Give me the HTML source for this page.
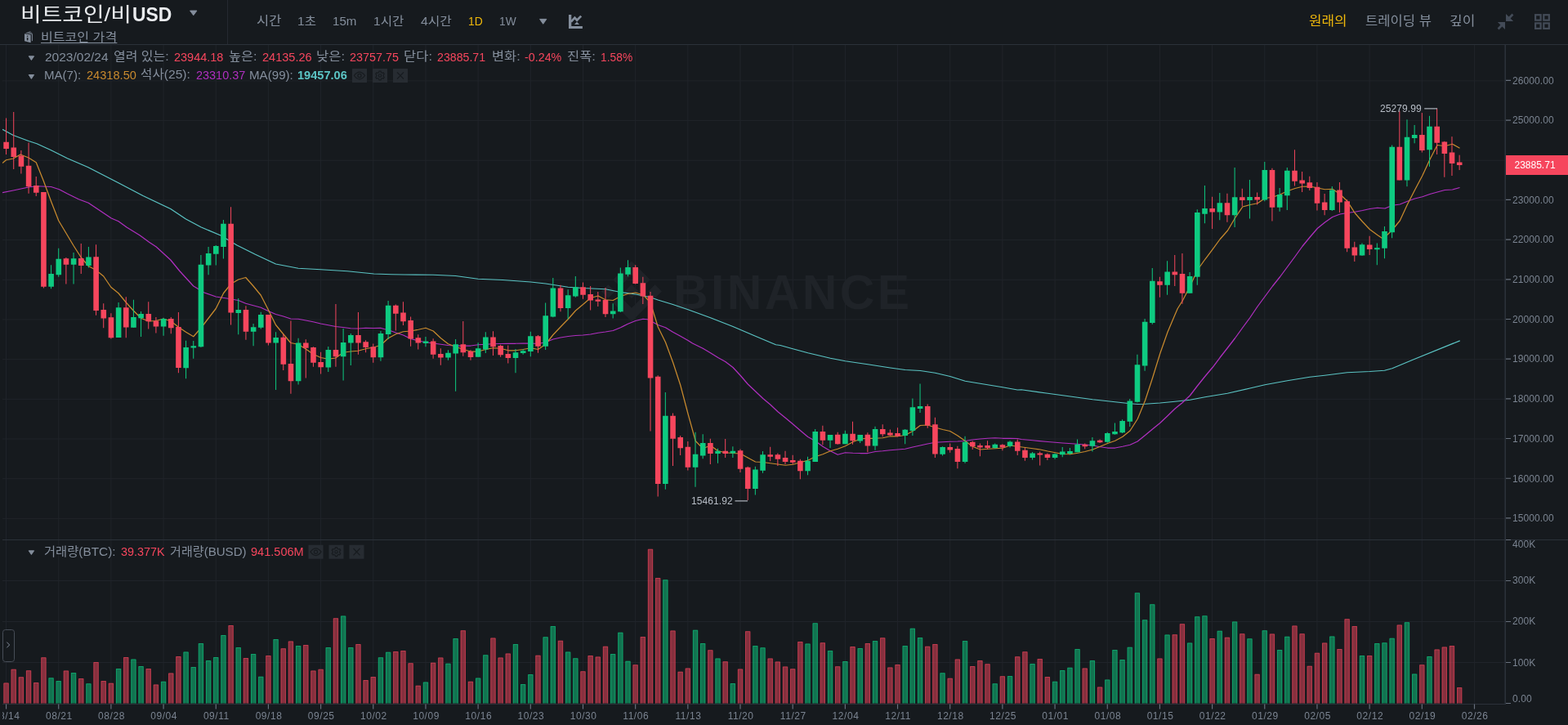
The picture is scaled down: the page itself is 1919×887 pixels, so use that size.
<!DOCTYPE html>
<html lang="ko">
<head>
<meta charset="utf-8">
<title>비트코인/비USD</title>
<style>
*{box-sizing:border-box}
html,body{margin:0;padding:0}
body{width:1919px;height:887px;background:#161a1e;overflow:hidden;position:relative;font-family:"Liberation Sans","Noto Sans CJK KR",sans-serif;color:#848e9c}
.abs{position:absolute;white-space:nowrap;line-height:1}
.t14{font-size:14px}
.hd{top:19px;height:16px;line-height:16px;font-size:14px;color:#848e9c}
.leg{font-size:14px;height:16px;line-height:16px;color:#848e9c}
.tx{position:absolute;white-space:pre;height:20px;line-height:20px;transform-origin:0 50%}
.k{position:relative;top:-0.8px;font-size:1.03em}
.g{color:#848e9c}.w{color:#fff}.r{color:#f6465d}.o{color:#c88a2e}.p{color:#b02fc0}.c{color:#5bc4c4;font-weight:bold}.y{color:#f0b90b}
.ib{position:absolute;width:18px;height:17px;background:#23282f}
.tri{position:absolute;width:0;height:0;border-left:4.5px solid transparent;border-right:4.5px solid transparent;border-top:6px solid #848e9c}
</style>
</head>
<body>
<svg width="1919" height="887" viewBox="0 0 1919 887" style="position:absolute;left:0;top:0" font-family="'Liberation Sans', 'Noto Sans CJK KR', sans-serif">
<defs><clipPath id="cm"><rect x="3" y="55" width="1840" height="605.5"/></clipPath><clipPath id="ct"><rect x="3" y="862" width="1916" height="25"/></clipPath></defs>
<path d="M7.55 55V861M71.73 55V861M135.9 55V861M200.08 55V861M264.25 55V861M328.43 55V861M392.61 55V861M456.78 55V861M520.96 55V861M585.13 55V861M649.31 55V861M713.49 55V861M777.66 55V861M841.84 55V861M906.01 55V861M970.19 55V861M1034.37 55V861M1098.54 55V861M1162.72 55V861M1226.89 55V861M1291.07 55V861M1355.25 55V861M1419.42 55V861M1483.6 55V861M1547.77 55V861M1611.95 55V861M1676.13 55V861M1740.3 55V861M1804.48 55V861M3 634.38H1843M3 585.7H1843M3 537.02H1843M3 488.34H1843M3 439.66H1843M3 390.98H1843M3 342.3H1843M3 293.62H1843M3 244.94H1843M3 196.26H1843M3 147.58H1843M3 98.9H1843M3 810.5H1843M3 760.5H1843M3 710.5H1843" stroke="#20242a" stroke-width="1" fill="none"/>
<g fill="#1f2328"><g transform="translate(736,319.5) scale(0.5845)"><path d="M38.73 53.2L63.31 28.62L87.9 53.21L102.2 38.91L63.31 0L24.43 38.9Z"/><path d="M0 63.31L14.3 49.01L28.6 63.31L14.3 77.61Z"/><path d="M38.73 73.41L63.31 97.99L87.9 73.4L102.21 87.69L63.31 126.61L24.41 87.69Z"/><path d="M98.01 63.31L112.31 49.01L126.61 63.31L112.31 77.61Z"/><path d="M77.83 63.3L63.31 48.78L48.78 63.31L63.31 77.84Z"/></g><text x="824" y="378" font-size="59" font-weight="bold" letter-spacing="3.4">BINANCE</text></g>
<path d="M0 54.5H1919M3 660.5H1919M3 861.5H1843" stroke="#2b3139" stroke-width="1" fill="none"/>
<path d="M1842.2 55V862" stroke="#2b3139" stroke-width="1.6" fill="none"/>
<path d="M1843 633.88H1849M1843 585.2H1849M1843 536.52H1849M1843 487.84H1849M1843 439.16H1849M1843 390.48H1849M1843 341.8H1849M1843 293.12H1849M1843 244.44H1849M1843 195.76H1849M1843 147.08H1849M1843 98.4H1849M1843 860.5H1849M1843 810.5H1849M1843 760.5H1849M1843 710.5H1849M1843 660.5H1849M7.55 861.5V867.5M71.73 861.5V867.5M135.9 861.5V867.5M200.08 861.5V867.5M264.25 861.5V867.5M328.43 861.5V867.5M392.61 861.5V867.5M456.78 861.5V867.5M520.96 861.5V867.5M585.13 861.5V867.5M649.31 861.5V867.5M713.49 861.5V867.5M777.66 861.5V867.5M841.84 861.5V867.5M906.01 861.5V867.5M970.19 861.5V867.5M1034.37 861.5V867.5M1098.54 861.5V867.5M1162.72 861.5V867.5M1226.89 861.5V867.5M1291.07 861.5V867.5M1355.25 861.5V867.5M1419.42 861.5V867.5M1483.6 861.5V867.5M1547.77 861.5V867.5M1611.95 861.5V867.5M1676.13 861.5V867.5M1740.3 861.5V867.5M1804.48 861.5V867.5" stroke="#69717e" stroke-width="1.15" fill="none"/>
<path d="M4.4 835.5h6.3V860.6h-6.3ZM13.57 818.75h6.3V860.6h-6.3ZM22.74 828.25h6.3V860.6h-6.3ZM31.9 820.25h6.3V860.6h-6.3ZM41.07 835h6.3V860.6h-6.3ZM50.24 804.25h6.3V860.6h-6.3ZM77.74 820.5h6.3V860.6h-6.3ZM96.08 830h6.3V860.6h-6.3ZM114.42 810h6.3V860.6h-6.3ZM123.58 833h6.3V860.6h-6.3ZM132.75 835.75h6.3V860.6h-6.3ZM151.09 804h6.3V860.6h-6.3ZM178.59 818h6.3V860.6h-6.3ZM187.76 837.5h6.3V860.6h-6.3ZM206.1 823.5h6.3V860.6h-6.3ZM215.26 803h6.3V860.6h-6.3ZM279.44 765h6.3V860.6h-6.3ZM297.78 805h6.3V860.6h-6.3ZM325.28 802h6.3V860.6h-6.3ZM343.62 793.25h6.3V860.6h-6.3ZM352.78 784.5h6.3V860.6h-6.3ZM371.12 789h6.3V860.6h-6.3ZM380.29 820.5h6.3V860.6h-6.3ZM389.46 818.75h6.3V860.6h-6.3ZM407.79 756.25h6.3V860.6h-6.3ZM435.3 788h6.3V860.6h-6.3ZM444.46 832h6.3V860.6h-6.3ZM453.63 828h6.3V860.6h-6.3ZM481.14 797h6.3V860.6h-6.3ZM490.3 796h6.3V860.6h-6.3ZM499.47 811.25h6.3V860.6h-6.3ZM508.64 838.75h6.3V860.6h-6.3ZM526.98 810.75h6.3V860.6h-6.3ZM536.14 804.5h6.3V860.6h-6.3ZM563.65 771.25h6.3V860.6h-6.3ZM572.82 833.75h6.3V860.6h-6.3ZM600.32 780.5h6.3V860.6h-6.3ZM609.49 804.5h6.3V860.6h-6.3ZM618.66 799.5h6.3V860.6h-6.3ZM655.33 801.75h6.3V860.6h-6.3ZM682.83 783.75h6.3V860.6h-6.3ZM710.34 821.25h6.3V860.6h-6.3ZM719.5 802h6.3V860.6h-6.3ZM728.67 803.5h6.3V860.6h-6.3ZM737.84 790.75h6.3V860.6h-6.3ZM774.51 813.25h6.3V860.6h-6.3ZM783.68 779h6.3V860.6h-6.3ZM792.85 671.75h6.3V860.6h-6.3ZM802.02 707h6.3V860.6h-6.3ZM820.35 771.5h6.3V860.6h-6.3ZM829.52 821.75h6.3V860.6h-6.3ZM838.69 817.5h6.3V860.6h-6.3ZM866.19 795.25h6.3V860.6h-6.3ZM884.53 809.25h6.3V860.6h-6.3ZM902.86 818.5h6.3V860.6h-6.3ZM912.03 772.25h6.3V860.6h-6.3ZM939.54 805.5h6.3V860.6h-6.3ZM948.7 809.5h6.3V860.6h-6.3ZM957.87 815.5h6.3V860.6h-6.3ZM967.04 818.25h6.3V860.6h-6.3ZM976.21 785h6.3V860.6h-6.3ZM1003.71 786.25h6.3V860.6h-6.3ZM1022.05 815.25h6.3V860.6h-6.3ZM1040.38 791h6.3V860.6h-6.3ZM1058.72 787h6.3V860.6h-6.3ZM1077.06 780.25h6.3V860.6h-6.3ZM1086.22 816.5h6.3V860.6h-6.3ZM1095.39 813h6.3V860.6h-6.3ZM1132.06 790.75h6.3V860.6h-6.3ZM1141.23 788h6.3V860.6h-6.3ZM1159.57 829.75h6.3V860.6h-6.3ZM1168.74 806.5h6.3V860.6h-6.3ZM1187.07 815h6.3V860.6h-6.3ZM1196.24 808h6.3V860.6h-6.3ZM1205.41 812.25h6.3V860.6h-6.3ZM1223.74 827.25h6.3V860.6h-6.3ZM1242.08 803.25h6.3V860.6h-6.3ZM1251.25 797.25h6.3V860.6h-6.3ZM1269.58 806h6.3V860.6h-6.3ZM1278.75 828h6.3V860.6h-6.3ZM1324.59 817.5h6.3V860.6h-6.3ZM1342.93 840.5h6.3V860.6h-6.3ZM1416.27 805.5h6.3V860.6h-6.3ZM1434.61 776.25h6.3V860.6h-6.3ZM1443.78 763.25h6.3V860.6h-6.3ZM1480.45 781h6.3V860.6h-6.3ZM1498.78 779.75h6.3V860.6h-6.3ZM1517.12 775.25h6.3V860.6h-6.3ZM1535.46 824.75h6.3V860.6h-6.3ZM1553.79 775.5h6.3V860.6h-6.3ZM1581.3 765.5h6.3V860.6h-6.3ZM1590.46 775.25h6.3V860.6h-6.3ZM1599.63 814.75h6.3V860.6h-6.3ZM1608.8 798.75h6.3V860.6h-6.3ZM1617.97 786.5h6.3V860.6h-6.3ZM1636.3 794h6.3V860.6h-6.3ZM1645.47 757.25h6.3V860.6h-6.3ZM1654.64 766h6.3V860.6h-6.3ZM1672.98 802h6.3V860.6h-6.3ZM1709.65 764.5h6.3V860.6h-6.3ZM1737.15 813.25h6.3V860.6h-6.3ZM1755.49 794.5h6.3V860.6h-6.3ZM1764.66 791.5h6.3V860.6h-6.3ZM1773.82 790h6.3V860.6h-6.3ZM1782.99 841h6.3V860.6h-6.3Z" fill="#f6465d" fill-opacity="0.5"/>
<path d="M4.9 860.6V836h5.3V860.6M14.07 860.6V819.25h5.3V860.6M23.24 860.6V828.75h5.3V860.6M32.4 860.6V820.75h5.3V860.6M41.57 860.6V835.5h5.3V860.6M50.74 860.6V804.75h5.3V860.6M78.24 860.6V821h5.3V860.6M96.58 860.6V830.5h5.3V860.6M114.92 860.6V810.5h5.3V860.6M124.08 860.6V833.5h5.3V860.6M133.25 860.6V836.25h5.3V860.6M151.59 860.6V804.5h5.3V860.6M179.09 860.6V818.5h5.3V860.6M188.26 860.6V838h5.3V860.6M206.6 860.6V824h5.3V860.6M215.76 860.6V803.5h5.3V860.6M279.94 860.6V765.5h5.3V860.6M298.28 860.6V805.5h5.3V860.6M325.78 860.6V802.5h5.3V860.6M344.12 860.6V793.75h5.3V860.6M353.28 860.6V785h5.3V860.6M371.62 860.6V789.5h5.3V860.6M380.79 860.6V821h5.3V860.6M389.96 860.6V819.25h5.3V860.6M408.29 860.6V756.75h5.3V860.6M435.8 860.6V788.5h5.3V860.6M444.96 860.6V832.5h5.3V860.6M454.13 860.6V828.5h5.3V860.6M481.64 860.6V797.5h5.3V860.6M490.8 860.6V796.5h5.3V860.6M499.97 860.6V811.75h5.3V860.6M509.14 860.6V839.25h5.3V860.6M527.48 860.6V811.25h5.3V860.6M536.64 860.6V805h5.3V860.6M564.15 860.6V771.75h5.3V860.6M573.32 860.6V834.25h5.3V860.6M600.82 860.6V781h5.3V860.6M609.99 860.6V805h5.3V860.6M619.16 860.6V800h5.3V860.6M655.83 860.6V802.25h5.3V860.6M683.33 860.6V784.25h5.3V860.6M710.84 860.6V821.75h5.3V860.6M720 860.6V802.5h5.3V860.6M729.17 860.6V804h5.3V860.6M738.34 860.6V791.25h5.3V860.6M775.01 860.6V813.75h5.3V860.6M784.18 860.6V779.5h5.3V860.6M793.35 860.6V672.25h5.3V860.6M802.52 860.6V707.5h5.3V860.6M820.85 860.6V772h5.3V860.6M830.02 860.6V822.25h5.3V860.6M839.19 860.6V818h5.3V860.6M866.69 860.6V795.75h5.3V860.6M885.03 860.6V809.75h5.3V860.6M903.36 860.6V819h5.3V860.6M912.53 860.6V772.75h5.3V860.6M940.04 860.6V806h5.3V860.6M949.2 860.6V810h5.3V860.6M958.37 860.6V816h5.3V860.6M967.54 860.6V818.75h5.3V860.6M976.71 860.6V785.5h5.3V860.6M1004.21 860.6V786.75h5.3V860.6M1022.55 860.6V815.75h5.3V860.6M1040.88 860.6V791.5h5.3V860.6M1059.22 860.6V787.5h5.3V860.6M1077.56 860.6V780.75h5.3V860.6M1086.72 860.6V817h5.3V860.6M1095.89 860.6V813.5h5.3V860.6M1132.56 860.6V791.25h5.3V860.6M1141.73 860.6V788.5h5.3V860.6M1160.07 860.6V830.25h5.3V860.6M1169.24 860.6V807h5.3V860.6M1187.57 860.6V815.5h5.3V860.6M1196.74 860.6V808.5h5.3V860.6M1205.91 860.6V812.75h5.3V860.6M1224.24 860.6V827.75h5.3V860.6M1242.58 860.6V803.75h5.3V860.6M1251.75 860.6V797.75h5.3V860.6M1270.08 860.6V806.5h5.3V860.6M1279.25 860.6V828.5h5.3V860.6M1325.09 860.6V818h5.3V860.6M1343.43 860.6V841h5.3V860.6M1416.77 860.6V806h5.3V860.6M1435.11 860.6V776.75h5.3V860.6M1444.28 860.6V763.75h5.3V860.6M1480.95 860.6V781.5h5.3V860.6M1499.28 860.6V780.25h5.3V860.6M1517.62 860.6V775.75h5.3V860.6M1535.96 860.6V825.25h5.3V860.6M1554.29 860.6V776h5.3V860.6M1581.8 860.6V766h5.3V860.6M1590.96 860.6V775.75h5.3V860.6M1600.13 860.6V815.25h5.3V860.6M1609.3 860.6V799.25h5.3V860.6M1618.47 860.6V787h5.3V860.6M1636.8 860.6V794.5h5.3V860.6M1645.97 860.6V757.75h5.3V860.6M1655.14 860.6V766.5h5.3V860.6M1673.48 860.6V802.5h5.3V860.6M1710.15 860.6V765h5.3V860.6M1737.65 860.6V813.75h5.3V860.6M1755.99 860.6V795h5.3V860.6M1765.16 860.6V792h5.3V860.6M1774.32 860.6V790.5h5.3V860.6M1783.49 860.6V841.5h5.3V860.6" fill="none" stroke="#f6465d" stroke-opacity="0.5" stroke-width="1"/>
<path d="M59.41 829.25h6.3V860.6h-6.3ZM68.58 833h6.3V860.6h-6.3ZM86.91 823h6.3V860.6h-6.3ZM105.25 836.25h6.3V860.6h-6.3ZM141.92 818h6.3V860.6h-6.3ZM160.26 806.5h6.3V860.6h-6.3ZM169.42 815h6.3V860.6h-6.3ZM196.93 833.75h6.3V860.6h-6.3ZM224.43 797.5h6.3V860.6h-6.3ZM233.6 816h6.3V860.6h-6.3ZM242.77 787h6.3V860.6h-6.3ZM251.94 808h6.3V860.6h-6.3ZM261.1 804h6.3V860.6h-6.3ZM270.27 777h6.3V860.6h-6.3ZM288.61 792h6.3V860.6h-6.3ZM306.94 800h6.3V860.6h-6.3ZM316.11 827.75h6.3V860.6h-6.3ZM334.45 782h6.3V860.6h-6.3ZM361.95 790h6.3V860.6h-6.3ZM398.62 792h6.3V860.6h-6.3ZM416.96 753.5h6.3V860.6h-6.3ZM426.13 792h6.3V860.6h-6.3ZM462.8 804.25h6.3V860.6h-6.3ZM471.97 797.75h6.3V860.6h-6.3ZM517.81 834.5h6.3V860.6h-6.3ZM545.31 811.75h6.3V860.6h-6.3ZM554.48 781h6.3V860.6h-6.3ZM581.98 829.5h6.3V860.6h-6.3ZM591.15 801.25h6.3V860.6h-6.3ZM627.82 788h6.3V860.6h-6.3ZM636.99 837h6.3V860.6h-6.3ZM646.16 825h6.3V860.6h-6.3ZM664.5 779.25h6.3V860.6h-6.3ZM673.66 766h6.3V860.6h-6.3ZM692 797.5h6.3V860.6h-6.3ZM701.17 805.25h6.3V860.6h-6.3ZM747.01 800h6.3V860.6h-6.3ZM756.18 773.75h6.3V860.6h-6.3ZM765.34 808.75h6.3V860.6h-6.3ZM811.18 709.25h6.3V860.6h-6.3ZM847.86 770.75h6.3V860.6h-6.3ZM857.02 787h6.3V860.6h-6.3ZM875.36 805.5h6.3V860.6h-6.3ZM893.7 836h6.3V860.6h-6.3ZM921.2 790h6.3V860.6h-6.3ZM930.37 792.25h6.3V860.6h-6.3ZM985.38 787.5h6.3V860.6h-6.3ZM994.54 762.25h6.3V860.6h-6.3ZM1012.88 796h6.3V860.6h-6.3ZM1031.22 809h6.3V860.6h-6.3ZM1049.55 793h6.3V860.6h-6.3ZM1067.89 784h6.3V860.6h-6.3ZM1104.56 790h6.3V860.6h-6.3ZM1113.73 768.75h6.3V860.6h-6.3ZM1122.9 780h6.3V860.6h-6.3ZM1150.4 823.25h6.3V860.6h-6.3ZM1177.9 784h6.3V860.6h-6.3ZM1214.58 836.25h6.3V860.6h-6.3ZM1232.91 827h6.3V860.6h-6.3ZM1260.42 812h6.3V860.6h-6.3ZM1287.92 833.75h6.3V860.6h-6.3ZM1297.09 820h6.3V860.6h-6.3ZM1306.26 816.75h6.3V860.6h-6.3ZM1315.42 794h6.3V860.6h-6.3ZM1333.76 808h6.3V860.6h-6.3ZM1352.1 831.5h6.3V860.6h-6.3ZM1361.26 795h6.3V860.6h-6.3ZM1370.43 807h6.3V860.6h-6.3ZM1379.6 791.75h6.3V860.6h-6.3ZM1388.77 725.25h6.3V860.6h-6.3ZM1397.94 758.25h6.3V860.6h-6.3ZM1407.1 739.25h6.3V860.6h-6.3ZM1425.44 776.5h6.3V860.6h-6.3ZM1452.94 786.5h6.3V860.6h-6.3ZM1462.11 754.25h6.3V860.6h-6.3ZM1471.28 753.25h6.3V860.6h-6.3ZM1489.62 771.75h6.3V860.6h-6.3ZM1507.95 760.5h6.3V860.6h-6.3ZM1526.29 781.25h6.3V860.6h-6.3ZM1544.62 771.25h6.3V860.6h-6.3ZM1562.96 795h6.3V860.6h-6.3ZM1572.13 778.75h6.3V860.6h-6.3ZM1627.14 778.5h6.3V860.6h-6.3ZM1663.81 802h6.3V860.6h-6.3ZM1682.14 787h6.3V860.6h-6.3ZM1691.31 786.25h6.3V860.6h-6.3ZM1700.48 780.75h6.3V860.6h-6.3ZM1718.82 761.25h6.3V860.6h-6.3ZM1727.98 824.5h6.3V860.6h-6.3ZM1746.32 803h6.3V860.6h-6.3Z" fill="#0ecb81" fill-opacity="0.5"/>
<path d="M59.91 860.6V829.75h5.3V860.6M69.08 860.6V833.5h5.3V860.6M87.41 860.6V823.5h5.3V860.6M105.75 860.6V836.75h5.3V860.6M142.42 860.6V818.5h5.3V860.6M160.76 860.6V807h5.3V860.6M169.92 860.6V815.5h5.3V860.6M197.43 860.6V834.25h5.3V860.6M224.93 860.6V798h5.3V860.6M234.1 860.6V816.5h5.3V860.6M243.27 860.6V787.5h5.3V860.6M252.44 860.6V808.5h5.3V860.6M261.6 860.6V804.5h5.3V860.6M270.77 860.6V777.5h5.3V860.6M289.11 860.6V792.5h5.3V860.6M307.44 860.6V800.5h5.3V860.6M316.61 860.6V828.25h5.3V860.6M334.95 860.6V782.5h5.3V860.6M362.45 860.6V790.5h5.3V860.6M399.12 860.6V792.5h5.3V860.6M417.46 860.6V754h5.3V860.6M426.63 860.6V792.5h5.3V860.6M463.3 860.6V804.75h5.3V860.6M472.47 860.6V798.25h5.3V860.6M518.31 860.6V835h5.3V860.6M545.81 860.6V812.25h5.3V860.6M554.98 860.6V781.5h5.3V860.6M582.48 860.6V830h5.3V860.6M591.65 860.6V801.75h5.3V860.6M628.32 860.6V788.5h5.3V860.6M637.49 860.6V837.5h5.3V860.6M646.66 860.6V825.5h5.3V860.6M665 860.6V779.75h5.3V860.6M674.16 860.6V766.5h5.3V860.6M692.5 860.6V798h5.3V860.6M701.67 860.6V805.75h5.3V860.6M747.51 860.6V800.5h5.3V860.6M756.68 860.6V774.25h5.3V860.6M765.84 860.6V809.25h5.3V860.6M811.68 860.6V709.75h5.3V860.6M848.36 860.6V771.25h5.3V860.6M857.52 860.6V787.5h5.3V860.6M875.86 860.6V806h5.3V860.6M894.2 860.6V836.5h5.3V860.6M921.7 860.6V790.5h5.3V860.6M930.87 860.6V792.75h5.3V860.6M985.88 860.6V788h5.3V860.6M995.04 860.6V762.75h5.3V860.6M1013.38 860.6V796.5h5.3V860.6M1031.72 860.6V809.5h5.3V860.6M1050.05 860.6V793.5h5.3V860.6M1068.39 860.6V784.5h5.3V860.6M1105.06 860.6V790.5h5.3V860.6M1114.23 860.6V769.25h5.3V860.6M1123.4 860.6V780.5h5.3V860.6M1150.9 860.6V823.75h5.3V860.6M1178.4 860.6V784.5h5.3V860.6M1215.08 860.6V836.75h5.3V860.6M1233.41 860.6V827.5h5.3V860.6M1260.92 860.6V812.5h5.3V860.6M1288.42 860.6V834.25h5.3V860.6M1297.59 860.6V820.5h5.3V860.6M1306.76 860.6V817.25h5.3V860.6M1315.92 860.6V794.5h5.3V860.6M1334.26 860.6V808.5h5.3V860.6M1352.6 860.6V832h5.3V860.6M1361.76 860.6V795.5h5.3V860.6M1370.93 860.6V807.5h5.3V860.6M1380.1 860.6V792.25h5.3V860.6M1389.27 860.6V725.75h5.3V860.6M1398.44 860.6V758.75h5.3V860.6M1407.6 860.6V739.75h5.3V860.6M1425.94 860.6V777h5.3V860.6M1453.44 860.6V787h5.3V860.6M1462.61 860.6V754.75h5.3V860.6M1471.78 860.6V753.75h5.3V860.6M1490.12 860.6V772.25h5.3V860.6M1508.45 860.6V761h5.3V860.6M1526.79 860.6V781.75h5.3V860.6M1545.12 860.6V771.75h5.3V860.6M1563.46 860.6V795.5h5.3V860.6M1572.63 860.6V779.25h5.3V860.6M1627.64 860.6V779h5.3V860.6M1664.31 860.6V802.5h5.3V860.6M1682.64 860.6V787.5h5.3V860.6M1691.81 860.6V786.75h5.3V860.6M1700.98 860.6V781.25h5.3V860.6M1719.32 860.6V761.75h5.3V860.6M1728.48 860.6V825h5.3V860.6M1746.82 860.6V803.5h5.3V860.6" fill="none" stroke="#0ecb81" stroke-opacity="0.5" stroke-width="1"/>
<path d="M3 158.25L16.25 165.5L35 172.5L45 175.75L62.5 183.75L82.5 193.75L107.5 204.5L145 223.75L175 239.5L208.75 255.5L227.5 268L246.25 278L270 288L285 297L290 300L312.5 311.25L337.5 323L365 328.25L392.5 329.75L425 331.75L457.5 335L479.5 335.75L495 336L530 336.25L557.5 337.5L585 341.25L615 342.5L649.5 345L667.75 347L695.25 351.25L713.5 352.5L741 353.75L759.5 357.5L777.75 360L796 363.75L805.25 367L823.5 372.5L842 378.75L869.5 388.75L897 399.5L924.5 411.25L949.5 421.75L955 422.5L970.25 426.75L988.75 431.75L1016.25 438.25L1034.5 441.75L1062 445.75L1089.5 450L1107.75 452.5L1126.25 453.5L1144.5 456.25L1162.75 460.5L1181.25 466.25L1199.5 469.25L1227 473.75L1245.25 477L1250 476.75L1282.25 481.25L1309.75 485L1337.25 488.75L1364.75 491.75L1383 493.75L1392.25 494.5L1401.5 494.25L1419.75 493L1438 491.25L1456.5 489.25L1474.75 485.75L1502.25 481.25L1529.75 475L1548 470.75L1575.5 465.75L1603 461.25L1621.25 459.25L1648.75 455.75L1676.25 454.5L1694.5 453.25L1703.75 450.75L1729.5 440L1786.7 416.8" stroke="#5bc4c4" stroke-width="1.25" fill="none" stroke-linejoin="round" clip-path="url(#cm)"/><path d="M3 235.75L16.25 233L35 229L45 227.75L62.5 228.5L72.5 231.75L82.5 237L96.25 243.75L108.25 248.25L136.25 267L145 270.75L155 278L171.25 288L182.5 296.25L191.25 302L208.75 318L220 331.75L236.75 350L250 358L264.25 363L277.5 365L291.75 367.5L300.75 371.25L319.25 376.25L328.25 380.5L337.5 384.5L346.75 387L355.75 390L365 390.25L374.25 392L383.25 393.75L392.5 396L401.75 397.75L410.75 399.5L420 400.5L429.25 401.75L438.25 402L447.5 401.25L456.75 401.5L465.75 401.25L470 402.5L475.25 403.75L484.5 407L493.5 410L502.75 414.5L512 417L521 418.75L530.25 420L539.5 421.25L548.5 422.5L557.75 423L567 423L576 423L585.25 421.75L594.5 421.25L603.5 420.75L612.75 420.5L622 420.25L631 420.25L640.25 420L649.5 420L658.5 420.5L667.75 418.75L677 415L686 413L695.25 411.5L704.5 410.5L713.5 410L722.75 409L732 407.25L741 406L750.25 404.5L759.5 400.75L768.5 396.25L777.75 392.5L787 390.25L792.5 390.75L796 392.5L805.25 397.5L814.5 400.75L823.5 406.25L832.75 411.25L842 416.5L847.5 420L860.25 426.25L869.5 431.75L878.75 437.5L887.75 442.5L897 449.5L906.25 459.5L915.25 470L924.5 478.75L933.75 487.5L942.75 495L952 503.75L961.25 511.25L970.25 518.75L979.5 526.75L988.75 534.5L997.75 539.5L1007 546.25L1016.25 551.75L1025.25 556.25L1034.5 553.75L1043.75 554.25L1052.75 554.5L1062 554.5L1071.25 552.5L1080.25 551.75L1089.5 550.75L1098.75 550L1107.75 549.25L1117 547L1126.25 545L1135.25 543L1144.5 541.25L1153.75 540.75L1162.75 540.25L1172 540L1181.25 539.5L1190.25 538L1199.5 537L1208.75 536.25L1217.75 535.75L1227 536.25L1236.25 536.25L1245.25 536.5L1250 537.5L1264 538.75L1282.25 540.5L1300.5 542L1319 543.25L1337.25 545L1346.5 546.75L1355.5 548L1364.75 548L1374 546.25L1383 544.25L1392.25 540L1401.5 532.5L1410.5 525L1419.75 517.5L1429 508.75L1438 500L1447.25 492.5L1456.5 483.75L1465.5 472L1474.75 460.5L1484 449.5L1493 437.5L1502.25 425.75L1511.5 413.75L1520.5 401.25L1529.75 388.75L1539 375L1548.25 362.5L1557.5 350L1566.5 338.75L1575.75 326.25L1585 313.75L1594 301.25L1603.25 290L1612.5 279.25L1621.5 272L1630.75 265.5L1640 262L1649 260.5L1658.25 259.25L1667.5 257.5L1676.5 255.5L1685.75 254.25L1695 255L1704 251.25L1713.25 250L1722.5 246.25L1731.5 243L1740.75 240.75L1750 237.5L1759 235L1768.25 232.5L1777.5 232L1786.5 229.5" stroke="#b02fc0" stroke-width="1.25" fill="none" stroke-linejoin="round" clip-path="url(#cm)"/><path d="M3 199.5L7.5 195.75L16.25 194L25 189L35 193L44.25 198.75L53.25 221.25L62.5 246.25L71.75 270L80.75 285L90 300.5L99.25 315L108.25 325.5L117.5 330.5L126.75 338L135.75 351.25L145 358.75L154.25 370L163.25 380L172.5 389.25L181.75 393L190.75 392.5L200 390L209.25 393L218.25 400L227.5 406.25L236.75 411.75L246 401.25L255 389.5L264.25 377.5L273.5 358.75L282.5 347.5L291.75 342L300.75 339.5L310 350L319.25 361.25L328.25 378.75L337.5 397.5L346.75 408.75L355.75 419.5L365 421.25L374.25 427L383.25 433.25L392.5 437.5L401.75 439.25L410.75 438L420 431.25L429.25 430L438.25 429.25L447.5 426.75L456.75 425L465.75 422.5L475.25 413.75L484.5 408.75L493.5 405.75L502.75 405L512 403.25L521 401.25L530.25 405L539.5 413.75L548.5 420.75L557.75 424.25L567 427.5L576 430L585.25 430L594.5 427.5L603.5 425.75L612.75 426.25L622 428.75L631 428.75L640.25 427.5L649.5 425.75L658.5 427.5L667.75 421.25L677 409.5L686 400L695.25 390.5L704.5 380L713.5 372.5L722.75 364.5L732 362L741 366.75L750.25 367.5L759.5 362.5L768.5 359.5L777.75 358L787 360.75L796 370L805.25 400L814.5 418.75L823.75 443.75L832.75 471.25L842 506.25L851.25 539.5L860.25 548.75L869.5 545L878.75 551.75L887.75 553.75L897 554.5L906.25 555L915.25 560L924.5 565L933.75 565.5L942.75 566.75L952 568L961.25 569.25L970.25 568.25L979.5 565.75L988.75 563.25L997.75 558.75L1007 555.75L1016.25 551.75L1025.25 549.25L1034.5 545.75L1043.75 540.75L1052.75 537L1062 536.25L1071.25 536.25L1080.25 535.75L1089.5 533.75L1098.75 533.75L1107.75 532.5L1117 527.5L1126.25 520.5L1135.25 520L1144.5 523L1153.75 525.5L1162.75 527.5L1172 533L1181.25 539.5L1190.25 546.25L1199.5 550L1208.75 549.25L1217.75 548.75L1227 548.25L1236.25 545L1245.25 546.25L1254.75 547.5L1264 548.75L1273 550L1282.25 552L1291.5 553.75L1300.5 555.5L1309.75 555.75L1319 554.25L1328 552.5L1337.25 550L1346.5 546.25L1355.5 542.5L1364.75 539.25L1374 534.25L1383 527L1392.25 512.5L1401.5 490L1410.5 462.5L1419.75 432.5L1429 406.25L1438 385L1441.25 377.5L1447.5 367.5L1456.5 350L1465.75 330L1475 317L1484 305L1493.25 292.5L1502.5 282L1511.5 266.75L1520.75 253L1530 250.5L1539 248.75L1548.25 242.5L1557.5 241.25L1566.5 238L1575.75 233.75L1585 230.5L1594 228.25L1603.25 228L1612.5 230L1621.5 231.75L1630.75 231.25L1640 237.5L1649 246.25L1658.25 260.75L1667.5 271.25L1676.5 280.75L1685.75 287.5L1691.25 291.25L1695 290L1704 281.25L1713.25 270L1722.5 250L1731.5 232.5L1740.75 215L1750 195L1759 177.5L1768.25 178.75L1777.5 176.25L1786.5 181.25" stroke="#c88a2e" stroke-width="1.25" fill="none" stroke-linejoin="round" clip-path="url(#cm)"/>
<path d="M7.55 144.5V189M16.72 137V207M25.89 184V212.5M35.05 174.5V236.75M44.22 216V240M53.39 235V352.5M80.89 315V347.5M99.23 298V335M117.57 299.25V385.75M126.73 371.25V401.25M135.9 383.25V414.5M154.24 363.25V413.25M181.74 369.25V402.5M190.91 388V407.5M209.25 388V408.25M218.41 382V456.25M282.59 253.25V397.5M300.93 374.25V415.75M328.43 385V422.5M346.77 408.75V453M355.93 392.5V481.75M374.27 415.25V462.5M383.44 424.25V448.75M392.61 430.75V457.5M410.94 372V448.75M438.45 382V433.75M447.61 416.25V431.25M456.78 420.5V443.75M484.29 372.5V404.5M493.45 369.25V398M502.62 387.5V423.75M511.79 409.25V427.5M530.13 414.25V438.75M539.29 426.25V446.75M566.8 393V435.75M575.97 428.25V440.75M603.47 405.25V435M612.64 421.75V436.75M621.81 422.5V444.5M658.48 410V431.75M685.98 348.75V381.25M713.49 345.5V365.75M722.65 350V379.5M731.82 357V375M740.99 352V388M777.66 324.25V347.5M786.83 338.75V372M796 357V527.5M805.17 459.25V607.5M823.5 505.5V570M832.67 533V557M841.84 540V575.5M869.34 536.75V568M887.68 537V560M906.01 549.5V578M915.18 570.75V612M942.69 546.75V564.25M951.85 554.5V570M961.02 551.75V568M970.19 556.75V568M979.36 561.75V586.25M1006.86 520.75V544.25M1025.2 528.75V543.75M1043.53 515.75V543.75M1061.87 529.25V553.25M1080.21 519.25V534.25M1089.37 525.5V533.25M1098.54 523.25V534.25M1135.21 494.5V523.75M1144.38 510.75V560M1162.72 542.5V553.75M1171.89 545.75V573.25M1190.22 539.5V550M1199.39 542.5V558.25M1208.56 539.25V550M1226.89 543.25V551.25M1245.23 537.5V557M1254.4 548V563.75M1272.73 552.5V569.5M1281.9 554.5V563M1327.74 542.5V549.25M1346.08 537.5V542M1419.42 338.75V363.75M1437.76 312V350M1446.93 310V371.75M1483.6 240.75V280M1501.93 236.75V271.75M1520.27 230.75V252.5M1538.61 235.5V250.5M1556.94 205.75V270.5M1584.45 183.25V227.5M1593.61 210V235M1602.78 215.75V233M1611.95 223V257.5M1621.12 237V263.25M1639.45 223V260M1648.62 244.25V308.25M1657.79 295.75V320M1676.13 288.75V312M1712.8 135.61V220.47M1740.3 138.09V186.48M1758.64 132.63V188.96M1767.81 172.83V216.75M1776.97 167.12V215.01M1786.14 189.7V208.06" stroke="#f6465d" stroke-width="1" fill="none" clip-path="url(#cm)"/>
<path d="M4.3 173.75h6.6V182h-6.6ZM13.47 180.5h6.6V192h-6.6ZM22.64 190.5h6.6V203.75h-6.6ZM31.8 202.75h6.6V228.25h-6.6ZM40.97 227h6.6V235.75h-6.6ZM50.14 235h6.6V350.75h-6.6ZM77.64 316.25h6.6V323.75h-6.6ZM95.98 316h6.6V325h-6.6ZM114.32 314.25h6.6V380h-6.6ZM123.48 379h6.6V389.5h-6.6ZM132.65 388.25h6.6V413.25h-6.6ZM150.99 376.25h6.6V400.5h-6.6ZM178.49 384h6.6V393.25h-6.6ZM187.66 392.5h6.6V399.5h-6.6ZM206 390h6.6V401.25h-6.6ZM215.16 400h6.6V450h-6.6ZM279.34 273.75h6.6V382.5h-6.6ZM297.68 379h6.6V405.75h-6.6ZM325.18 385h6.6V419.5h-6.6ZM343.52 412.75h6.6V445.75h-6.6ZM352.68 445h6.6V466.25h-6.6ZM371.02 419.5h6.6V425.75h-6.6ZM380.19 425h6.6V443.75h-6.6ZM389.36 443h6.6V449.25h-6.6ZM407.69 428h6.6V436.25h-6.6ZM435.2 410h6.6V419.5h-6.6ZM444.36 418.25h6.6V425h-6.6ZM453.53 424.25h6.6V437.25h-6.6ZM481.04 373.75h6.6V383.75h-6.6ZM490.2 382.5h6.6V393.25h-6.6ZM499.37 392h6.6V414.5h-6.6ZM508.54 413.25h6.6V419.5h-6.6ZM526.88 417.5h6.6V433.75h-6.6ZM536.04 433h6.6V437.5h-6.6ZM563.55 421.25h6.6V431.25h-6.6ZM572.72 430h6.6V437h-6.6ZM600.22 412.5h6.6V424.25h-6.6ZM609.39 423h6.6V434.25h-6.6ZM618.56 433h6.6V438h-6.6ZM655.23 411.25h6.6V423.75h-6.6ZM682.73 352.5h6.6V377h-6.6ZM710.24 351.25h6.6V360.75h-6.6ZM719.4 360h6.6V367.5h-6.6ZM728.57 366.5h6.6V368.75h-6.6ZM737.74 367h6.6V384.25h-6.6ZM774.41 327h6.6V347h-6.6ZM783.58 346.25h6.6V362.5h-6.6ZM792.75 361.75h6.6V462.5h-6.6ZM801.92 460.75h6.6V592h-6.6ZM820.25 508.75h6.6V536.75h-6.6ZM829.42 535h6.6V548.25h-6.6ZM838.59 546.75h6.6V571.75h-6.6ZM866.09 542h6.6V555h-6.6ZM884.43 551.75h6.6V555h-6.6ZM902.76 551.25h6.6V573.75h-6.6ZM911.93 571.75h6.6V598h-6.6ZM939.44 556.25h6.6V558.75h-6.6ZM948.6 556.25h6.6V561.75h-6.6ZM957.77 560h6.6V565h-6.6ZM966.94 563h6.6V565.75h-6.6ZM976.11 563.75h6.6V576.25h-6.6ZM1003.61 528h6.6V538.75h-6.6ZM1021.95 531.75h6.6V543.25h-6.6ZM1040.28 530.75h6.6V539.25h-6.6ZM1058.62 531.75h6.6V545.5h-6.6ZM1076.96 525h6.6V531.25h-6.6ZM1086.12 529.5h6.6V532.5h-6.6ZM1095.29 530h6.6V533.75h-6.6ZM1131.96 497h6.6V520.5h-6.6ZM1141.13 519.25h6.6V555.5h-6.6ZM1159.47 547h6.6V550.5h-6.6ZM1168.64 549h6.6V565h-6.6ZM1186.97 540.75h6.6V546.25h-6.6ZM1196.14 545h6.6V547.5h-6.6ZM1205.31 545h6.6V548h-6.6ZM1223.64 544.25h6.6V547.5h-6.6ZM1241.98 540.5h6.6V551.75h-6.6ZM1251.15 550.75h6.6V560h-6.6ZM1269.48 554.5h6.6V556.5h-6.6ZM1278.65 555.75h6.6V560h-6.6ZM1324.49 543.75h6.6V546.25h-6.6ZM1342.83 538.75h6.6V541.25h-6.6ZM1416.17 344.25h6.6V348.75h-6.6ZM1434.51 332.5h6.6V336.25h-6.6ZM1443.68 335h6.6V358.75h-6.6ZM1480.35 255h6.6V259.5h-6.6ZM1498.68 248.25h6.6V263.25h-6.6ZM1517.02 241.25h6.6V245h-6.6ZM1535.36 241h6.6V244.5h-6.6ZM1553.69 208h6.6V253.75h-6.6ZM1581.2 208.75h6.6V221.75h-6.6ZM1590.36 220.5h6.6V224.5h-6.6ZM1599.53 223.25h6.6V230h-6.6ZM1608.7 228.75h6.6V248.75h-6.6ZM1617.87 247.5h6.6V257h-6.6ZM1636.2 232.5h6.6V247.5h-6.6ZM1645.37 246.25h6.6V303.75h-6.6ZM1654.54 302.5h6.6V312.5h-6.6ZM1672.88 299.5h6.6V305h-6.6ZM1709.55 179.78h6.6V220.47h-6.6ZM1737.05 164.89h6.6V184h-6.6ZM1755.39 154.71h6.6V174.81h-6.6ZM1764.56 173.57h6.6V187.97h-6.6ZM1773.72 186.48h6.6V199.88h-6.6ZM1782.89 198.39h6.6V202.11h-6.6Z" fill="#f6465d" clip-path="url(#cm)"/>
<path d="M62.56 324.25V353.25M71.73 303.75V338.75M90.06 309V347.5M108.4 302V327.5M145.07 370V413M163.41 366.75V400.75M172.57 381V412M200.08 388.75V410.75M227.58 416.75V463.25M236.75 417V438.75M245.92 312V425M255.09 302V336.25M264.25 300V324.5M273.42 269V316.5M291.76 365V409.25M310.09 396V423.25M319.26 381.75V402.5M337.6 406.25V477M365.1 413.75V470.5M401.77 424V455M420.11 402V465.5M429.28 408V447M465.95 405V441.75M475.12 368V415M520.96 412V424.25M548.46 428.25V440.75M557.63 415V478.75M585.13 419.25V436.75M594.3 406.25V432M630.97 427V456.25M640.14 427V433.75M649.31 405.75V436.25M667.65 370.5V428M676.81 340V388.25M695.15 354.25V390.5M704.32 338V363.75M750.16 371.25V389.5M759.33 327.5V382M768.49 318.25V338.25M814.33 480V598.75M851.01 528.75V595.75M860.17 531.25V561.25M878.51 548.75V566.75M896.85 546.25V560M924.35 570.75V605.5M933.52 552V578.75M988.53 558.75V581.25M997.69 525V565M1016.03 532V548M1034.37 526.75V543.25M1052.7 532V542M1071.04 521.75V550.75M1107.71 525V543.25M1116.88 487.5V533M1126.05 469.5V505M1153.55 546.25V557.5M1181.05 533.75V566.75M1217.73 542.5V548.75M1236.06 539.25V547.5M1263.57 553V562.5M1291.07 554.5V561.75M1300.24 547V559.25M1309.41 548V556.25M1318.57 537.5V553.25M1336.91 535V552.5M1355.25 528.75V541.75M1364.41 517.5V531.75M1373.58 513.25V530M1382.75 488V522M1391.92 433.75V492.5M1401.09 390V453.75M1410.25 328V396.75M1428.59 319.25V360.75M1456.09 333V358.75M1465.26 256.25V348.75M1474.43 227V273.25M1492.77 236V269.25M1511.1 205V278M1529.44 220V267.5M1547.77 198V246.25M1566.11 230V258.75M1575.28 205V257M1630.29 228V258M1666.96 297.5V313M1685.29 297.5V324.25M1694.46 277V316.25M1703.63 177.54V291.25M1721.97 146.28V228.16M1731.13 152.98V175.31M1749.47 141.81V203.85" stroke="#0ecb81" stroke-width="1" fill="none" clip-path="url(#cm)"/>
<path d="M59.31 335h6.6V350.75h-6.6ZM68.48 316.75h6.6V336.25h-6.6ZM86.81 316.25h6.6V323.75h-6.6ZM105.15 314.5h6.6V325h-6.6ZM141.82 376.25h6.6V413h-6.6ZM160.16 388h6.6V400.75h-6.6ZM169.32 384h6.6V389.25h-6.6ZM196.83 390h6.6V399.5h-6.6ZM224.33 425h6.6V450.25h-6.6ZM233.5 423.25h6.6V425.5h-6.6ZM242.67 323.75h6.6V424.25h-6.6ZM251.84 310h6.6V324.5h-6.6ZM261 301h6.6V310.75h-6.6ZM270.17 273.75h6.6V302h-6.6ZM288.51 379h6.6V383h-6.6ZM306.84 400.25h6.6V405.75h-6.6ZM316.01 385h6.6V400.75h-6.6ZM334.35 413h6.6V419.5h-6.6ZM361.85 419.5h6.6V466.25h-6.6ZM398.52 428h6.6V449.5h-6.6ZM416.86 419h6.6V436.25h-6.6ZM426.03 410h6.6V419.5h-6.6ZM462.7 408h6.6V437.25h-6.6ZM471.87 373.75h6.6V409h-6.6ZM517.71 417.5h6.6V420h-6.6ZM545.21 431.75h6.6V437.5h-6.6ZM554.38 421.25h6.6V432.5h-6.6ZM581.88 426.25h6.6V436.75h-6.6ZM591.05 412.5h6.6V427.5h-6.6ZM627.72 431.25h6.6V438h-6.6ZM636.89 429.25h6.6V432h-6.6ZM646.06 411.25h6.6V430h-6.6ZM664.4 386.25h6.6V423.75h-6.6ZM673.56 352.5h6.6V387.5h-6.6ZM691.9 361.25h6.6V377h-6.6ZM701.07 351.25h6.6V362.5h-6.6ZM746.91 380.5h6.6V384.25h-6.6ZM756.08 334.5h6.6V381.25h-6.6ZM765.24 327h6.6V335.75h-6.6ZM811.08 508.75h6.6V592h-6.6ZM847.76 555.75h6.6V571.75h-6.6ZM856.92 542h6.6V557.5h-6.6ZM875.26 551.75h6.6V555h-6.6ZM893.6 551.75h6.6V554.5h-6.6ZM921.1 574.5h6.6V598h-6.6ZM930.27 556.25h6.6V575.75h-6.6ZM985.28 563.75h6.6V576.25h-6.6ZM994.44 528h6.6V565h-6.6ZM1012.78 532h6.6V538.75h-6.6ZM1031.12 530.75h6.6V543.25h-6.6ZM1049.45 532h6.6V539.5h-6.6ZM1067.79 525h6.6V545.5h-6.6ZM1104.46 525.75h6.6V533h-6.6ZM1113.63 498.25h6.6V527h-6.6ZM1122.8 497h6.6V500h-6.6ZM1150.3 547h6.6V555.75h-6.6ZM1177.8 540.75h6.6V565h-6.6ZM1214.48 543.75h6.6V548h-6.6ZM1232.81 540.5h6.6V545.75h-6.6ZM1260.32 554.5h6.6V560h-6.6ZM1287.82 555.5h6.6V560h-6.6ZM1296.99 552.5h6.6V556.25h-6.6ZM1306.16 552h6.6V555h-6.6ZM1315.32 543.75h6.6V553.25h-6.6ZM1333.66 539.25h6.6V545.75h-6.6ZM1352 530h6.6V540.75h-6.6ZM1361.16 528h6.6V531.25h-6.6ZM1370.33 515h6.6V529.25h-6.6ZM1379.5 490.5h6.6V515.75h-6.6ZM1388.67 446.25h6.6V491.75h-6.6ZM1397.84 393.75h6.6V447.5h-6.6ZM1407 343.75h6.6V395h-6.6ZM1425.34 332.5h6.6V348.75h-6.6ZM1452.84 338h6.6V358.75h-6.6ZM1462.01 260h6.6V338.75h-6.6ZM1471.18 255h6.6V261.75h-6.6ZM1489.52 248.25h6.6V259.5h-6.6ZM1507.85 241.25h6.6V263.25h-6.6ZM1526.19 241h6.6V245h-6.6ZM1544.52 208h6.6V244.5h-6.6ZM1562.86 238h6.6V253.75h-6.6ZM1572.03 208.75h6.6V239.25h-6.6ZM1627.04 232.5h6.6V257h-6.6ZM1663.71 299.25h6.6V312.5h-6.6ZM1682.04 303.25h6.6V305.25h-6.6ZM1691.21 283h6.6V303.75h-6.6ZM1700.38 179.78h6.6V284.25h-6.6ZM1718.72 167.87h6.6V220.47h-6.6ZM1727.88 164.89h6.6V169.11h-6.6ZM1746.22 154.71h6.6V183.25h-6.6Z" fill="#0ecb81" clip-path="url(#cm)"/>
<path d="M1743.2 132.9H1759M899.5 612.9H915" stroke="#a9afb8" stroke-width="1.4" fill="none"/>
<text x="1689" y="137" font-size="12" letter-spacing="0.1" fill="#b7bdc6">25279.99</text>
<text x="846" y="617" font-size="12" letter-spacing="0.1" fill="#b7bdc6">15461.92</text>
<text x="1851.1" y="638.18" font-size="12" letter-spacing="0.08" fill="#7a8390">15000.00</text>
<text x="1851.1" y="589.5" font-size="12" letter-spacing="0.08" fill="#7a8390">16000.00</text>
<text x="1851.1" y="540.82" font-size="12" letter-spacing="0.08" fill="#7a8390">17000.00</text>
<text x="1851.1" y="492.14" font-size="12" letter-spacing="0.08" fill="#7a8390">18000.00</text>
<text x="1851.1" y="443.46" font-size="12" letter-spacing="0.08" fill="#7a8390">19000.00</text>
<text x="1851.1" y="394.78" font-size="12" letter-spacing="0.08" fill="#7a8390">20000.00</text>
<text x="1851.1" y="346.1" font-size="12" letter-spacing="0.08" fill="#7a8390">21000.00</text>
<text x="1851.1" y="297.42" font-size="12" letter-spacing="0.08" fill="#7a8390">22000.00</text>
<text x="1851.1" y="248.74" font-size="12" letter-spacing="0.08" fill="#7a8390">23000.00</text>
<text x="1851.1" y="151.38" font-size="12" letter-spacing="0.08" fill="#7a8390">25000.00</text>
<text x="1851.1" y="102.7" font-size="12" letter-spacing="0.08" fill="#7a8390">26000.00</text>
<text x="1851.1" y="670.3" font-size="12" letter-spacing="0.08" fill="#7a8390">400K</text>
<text x="1851.1" y="714.3" font-size="12" letter-spacing="0.08" fill="#7a8390">300K</text>
<text x="1851.1" y="764.3" font-size="12" letter-spacing="0.08" fill="#7a8390">200K</text>
<text x="1851.1" y="814.8" font-size="12" letter-spacing="0.08" fill="#7a8390">100K</text>
<text x="1851.1" y="858.8" font-size="12" letter-spacing="0.08" fill="#7a8390">0.00</text>
<rect x="1843" y="190" width="76" height="24" fill="#f6465d"/>
<text x="1853.5" y="206.3" font-size="12" fill="#ffffff">23885.71</text>
<g clip-path="url(#ct)">
<text x="8.15" y="879.8" font-size="12" fill="#7a8390" text-anchor="middle" letter-spacing="0.55">08/14</text>
<text x="72.33" y="879.8" font-size="12" fill="#7a8390" text-anchor="middle" letter-spacing="0.55">08/21</text>
<text x="136.5" y="879.8" font-size="12" fill="#7a8390" text-anchor="middle" letter-spacing="0.55">08/28</text>
<text x="200.68" y="879.8" font-size="12" fill="#7a8390" text-anchor="middle" letter-spacing="0.55">09/04</text>
<text x="264.85" y="879.8" font-size="12" fill="#7a8390" text-anchor="middle" letter-spacing="0.55">09/11</text>
<text x="329.03" y="879.8" font-size="12" fill="#7a8390" text-anchor="middle" letter-spacing="0.55">09/18</text>
<text x="393.21" y="879.8" font-size="12" fill="#7a8390" text-anchor="middle" letter-spacing="0.55">09/25</text>
<text x="457.38" y="879.8" font-size="12" fill="#7a8390" text-anchor="middle" letter-spacing="0.55">10/02</text>
<text x="521.56" y="879.8" font-size="12" fill="#7a8390" text-anchor="middle" letter-spacing="0.55">10/09</text>
<text x="585.73" y="879.8" font-size="12" fill="#7a8390" text-anchor="middle" letter-spacing="0.55">10/16</text>
<text x="649.91" y="879.8" font-size="12" fill="#7a8390" text-anchor="middle" letter-spacing="0.55">10/23</text>
<text x="714.09" y="879.8" font-size="12" fill="#7a8390" text-anchor="middle" letter-spacing="0.55">10/30</text>
<text x="778.26" y="879.8" font-size="12" fill="#7a8390" text-anchor="middle" letter-spacing="0.55">11/06</text>
<text x="842.44" y="879.8" font-size="12" fill="#7a8390" text-anchor="middle" letter-spacing="0.55">11/13</text>
<text x="906.61" y="879.8" font-size="12" fill="#7a8390" text-anchor="middle" letter-spacing="0.55">11/20</text>
<text x="970.79" y="879.8" font-size="12" fill="#7a8390" text-anchor="middle" letter-spacing="0.55">11/27</text>
<text x="1034.97" y="879.8" font-size="12" fill="#7a8390" text-anchor="middle" letter-spacing="0.55">12/04</text>
<text x="1099.14" y="879.8" font-size="12" fill="#7a8390" text-anchor="middle" letter-spacing="0.55">12/11</text>
<text x="1163.32" y="879.8" font-size="12" fill="#7a8390" text-anchor="middle" letter-spacing="0.55">12/18</text>
<text x="1227.49" y="879.8" font-size="12" fill="#7a8390" text-anchor="middle" letter-spacing="0.55">12/25</text>
<text x="1291.67" y="879.8" font-size="12" fill="#7a8390" text-anchor="middle" letter-spacing="0.55">01/01</text>
<text x="1355.85" y="879.8" font-size="12" fill="#7a8390" text-anchor="middle" letter-spacing="0.55">01/08</text>
<text x="1420.02" y="879.8" font-size="12" fill="#7a8390" text-anchor="middle" letter-spacing="0.55">01/15</text>
<text x="1484.2" y="879.8" font-size="12" fill="#7a8390" text-anchor="middle" letter-spacing="0.55">01/22</text>
<text x="1548.37" y="879.8" font-size="12" fill="#7a8390" text-anchor="middle" letter-spacing="0.55">01/29</text>
<text x="1612.55" y="879.8" font-size="12" fill="#7a8390" text-anchor="middle" letter-spacing="0.55">02/05</text>
<text x="1676.73" y="879.8" font-size="12" fill="#7a8390" text-anchor="middle" letter-spacing="0.55">02/12</text>
<text x="1740.9" y="879.8" font-size="12" fill="#7a8390" text-anchor="middle" letter-spacing="0.55">02/19</text>
<text x="1805.08" y="879.8" font-size="12" fill="#7a8390" text-anchor="middle" letter-spacing="0.55">02/26</text>
</g>
<rect x="3.5" y="770.5" width="14" height="39" rx="3" fill="#161a1e" stroke="#474d57" stroke-width="1"/>
<path d="M8.3 785.6L11.6 789L8.3 792.4" stroke="#848e9c" stroke-width="1" fill="none"/>
</svg>
<div class="tx g" style="left:313.84px;top:15.60px;font-size:15.45px;transform:scaleX(1.0667)">시간</div>
<div class="tx g" style="left:364.34px;top:16.10px;font-size:15.00px;transform:scaleX(1.0355)">1초</div>
<div class="tx g" style="left:407.22px;top:16.40px;font-size:15.00px;transform:scaleX(1.0076)">15m</div>
<div class="tx g" style="left:456.72px;top:16.10px;font-size:15.00px;transform:scaleX(1.0370)">1시간</div>
<div class="tx g" style="left:514.94px;top:16.10px;font-size:15.00px;transform:scaleX(1.0539)">4시간</div>
<div class="tx y" style="left:573.10px;top:16.40px;font-size:15.00px;transform:scaleX(0.9267)">1D</div>
<div class="tx g" style="left:611.16px;top:16.40px;font-size:15.00px;transform:scaleX(0.9181)">1W</div>
<div class="tx y" style="left:1602.49px;top:15.60px;font-size:15.45px;transform:scaleX(1.0904)">원래의</div>
<div class="tx g" style="left:1671.08px;top:15.60px;font-size:15.45px;transform:scaleX(1.0747)">트레이딩 뷰</div>
<div class="tx g" style="left:1774.46px;top:15.60px;font-size:15.45px;transform:scaleX(1.1010)">깊이</div>
<div class="tx g" style="left:54.60px;top:59.60px;font-size:14.50px;transform:scaleX(1.0693)">2023/02/24</div>
<div class="tx g" style="left:139.10px;top:58.80px;font-size:14.94px;transform:scaleX(1.0706)">열려 있는:</div>
<div class="tx r" style="left:212.96px;top:59.60px;font-size:14.50px;transform:scaleX(0.9991)">23944.18</div>
<div class="tx g" style="left:280.00px;top:58.80px;font-size:14.94px;transform:scaleX(1.0927)">높은:</div>
<div class="tx r" style="left:320.51px;top:59.60px;font-size:14.50px;transform:scaleX(1.0031)">24135.26</div>
<div class="tx g" style="left:387.00px;top:58.80px;font-size:14.94px;transform:scaleX(1.1106)">낮은:</div>
<div class="tx r" style="left:428.13px;top:59.60px;font-size:14.50px;transform:scaleX(0.9909)">23757.75</div>
<div class="tx g" style="left:494.11px;top:58.80px;font-size:14.94px;transform:scaleX(1.1069)">닫다:</div>
<div class="tx r" style="left:535.22px;top:59.60px;font-size:14.50px;transform:scaleX(0.9770)">23885.71</div>
<div class="tx g" style="left:602.02px;top:58.80px;font-size:14.94px;transform:scaleX(1.0981)">변화:</div>
<div class="tx r" style="left:642.08px;top:59.60px;font-size:14.50px;transform:scaleX(0.9859)">-0.24%</div>
<div class="tx g" style="left:694.46px;top:58.80px;font-size:14.94px;transform:scaleX(1.1048)">진폭:</div>
<div class="tx r" style="left:735.40px;top:59.60px;font-size:14.50px;transform:scaleX(0.9524)">1.58%</div>
<div class="tx g" style="left:54.10px;top:81.70px;font-size:14.50px;transform:scaleX(1.0387)">MA(7):</div>
<div class="tx o" style="left:105.56px;top:81.70px;font-size:14.50px;transform:scaleX(1.0071)">24318.50</div>
<div class="tx g" style="left:172.10px;top:81.40px;font-size:14.50px;transform:scaleX(1.0781)">석사(25):</div>
<div class="tx p" style="left:239.59px;top:81.70px;font-size:14.50px;transform:scaleX(0.9962)">23310.37</div>
<div class="tx g" style="left:305.10px;top:81.70px;font-size:14.50px;transform:scaleX(1.0439)">MA(99):</div>
<div class="tx c" style="left:364.24px;top:81.70px;font-size:14.50px;font-weight:bold;transform:scaleX(1.0056)">19457.06</div>
<div class="tx g" style="left:54.10px;top:664.70px;font-size:14.50px;transform:scaleX(1.0581)">거래량(BTC):</div>
<div class="tx r" style="left:147.93px;top:665.00px;font-size:14.50px;transform:scaleX(0.9903)">39.377K</div>
<div class="tx g" style="left:207.65px;top:664.70px;font-size:14.50px;transform:scaleX(1.0402)">거래량(BUSD)</div>
<div class="tx r" style="left:307.17px;top:665.00px;font-size:14.50px;transform:scaleX(1.0039)">941.506M</div>
<div class="tx" style="left:25.3px;top:2.7px;height:30px;line-height:30px;font-size:23.4px;color:#eaecef;font-weight:400;transform:scaleX(1.1915)">비트코인/비</div>
<div class="tx" style="left:162.3px;top:3px;height:30px;line-height:30px;font-size:24.5px;color:#eaecef;font-weight:bold;transform:scaleX(0.9336)">USD</div>
<div class="tx g" style="left:50.3px;top:35.8px;font-size:13.6px;transform:scaleX(1.1823)"><span style="border-bottom:1px solid #848e9c;display:inline-block;height:17.7px;line-height:20px">비트코인 가격</span></div>
<svg width="1919" height="887" viewBox="0 0 1919 887" style="position:absolute;left:0;top:0"><path d="M232.6 13.1H240.9L236.75 18.7Z" fill="#848e9c" stroke="#848e9c" stroke-width="1" stroke-linejoin="round"/><path d="M660.6 23.4H668.8L664.7 29.3Z" fill="#848e9c" stroke="#848e9c" stroke-width="1" stroke-linejoin="round"/><path d="M35.2 68.8H41.6L38.400000000000006 73.5Z" fill="#848e9c" stroke="#848e9c" stroke-width="1" stroke-linejoin="round"/><path d="M35.2 91.5H41.6L38.400000000000006 96.4Z" fill="#848e9c" stroke="#848e9c" stroke-width="1" stroke-linejoin="round"/><path d="M35.2 673.8H41.6L38.400000000000006 678.5Z" fill="#848e9c" stroke="#848e9c" stroke-width="1" stroke-linejoin="round"/><path d="M278.5 0V54" stroke="#252930" stroke-width="1"/><path d="M696 18H699.3V31.9H712.9V34.9H696Z" fill="#848e9c"/><path d="M698.9 26.7L703.4 21.7L706.1 24.7L711.2 19.6" stroke="#848e9c" stroke-width="2.7" fill="none"/><path d="M702.9 29.9H709.1L706 26.8Z" fill="#848e9c"/><path d="M1843 16.9L1846.6 20.5L1850.5 16.6L1852.4 18.6L1848.6 22.5L1852.1 26H1843Z" fill="#434b57"/><path d="M1842 36.1L1838.4 32.5L1834.5 36.4L1832.6 34.4L1836.4 30.5L1832.9 27H1842Z" fill="#434b57"/><rect x="1879.1" y="18.2" width="6.5" height="6.5" fill="none" stroke="#434b57" stroke-width="2.2"/><rect x="1879.1" y="28.4" width="6.5" height="6.5" fill="none" stroke="#434b57" stroke-width="2.2"/><rect x="1889.3" y="18.2" width="6.5" height="6.5" fill="none" stroke="#434b57" stroke-width="2.2"/><rect x="1889.3" y="28.4" width="6.5" height="6.5" fill="none" stroke="#434b57" stroke-width="2.2"/><g fill="#848e9c"><path d="M30 41.2L37.6 42.8V52.3L30 50.2Z"/><path d="M38.3 41.6L40 41.3V50L38.9 50.2V42.9Z" opacity="0.85"/><path d="M31 40.6L37.2 38.2L37.8 39.2L33 41Z" opacity="0.8"/><path d="M32.6 41L38.3 39.5L39.6 40.8L38 42.2Z" opacity="0.6"/></g><circle cx="33.6" cy="44.3" r="0.8" fill="#161a1e"/><rect x="32.9" y="45.9" width="1.5" height="3.6" rx="0.7" fill="#161a1e"/><rect x="431" y="84" width="18" height="17" fill="#272c32"/><path d="M433.4 92.5Q436.7 88.1 440 88.1Q443.3 88.1 446.6 92.5Q443.3 96.9 440 96.9Q436.7 96.9 433.4 92.5Z" fill="none" stroke="#171b1f" stroke-width="1.2" stroke-linejoin="round"/><circle cx="440" cy="92.5" r="2.1" fill="none" stroke="#171b1f" stroke-width="1.2"/><rect x="456" y="84" width="18" height="17" fill="#272c32"/><path d="M463.67 88.41L464.01 86.99L465.99 86.99L466.33 88.41L467.88 89.30L469.28 88.89L470.27 90.60L469.21 91.61L469.21 93.39L470.27 94.40L469.28 96.11L467.88 95.70L466.33 96.59L465.99 98.01L464.01 98.01L463.67 96.59L462.12 95.70L460.72 96.11L459.73 94.40L460.79 93.39L460.79 91.61L459.73 90.60L460.72 88.89L462.12 89.30Z" fill="none" stroke="#171b1f" stroke-width="1.2" stroke-linejoin="round"/><circle cx="465" cy="92.5" r="1.7" fill="none" stroke="#171b1f" stroke-width="1.1"/><rect x="481" y="84" width="18" height="17" fill="#272c32"/><path d="M486 88.3L494 96.7M494 88.3L486 96.7" fill="none" stroke="#171b1f" stroke-width="1.2"/><rect x="377.5" y="666.7" width="18" height="17" fill="#272c32"/><path d="M379.9 675.2Q383.2 670.8000000000001 386.5 670.8000000000001Q389.8 670.8000000000001 393.1 675.2Q389.8 679.6 386.5 679.6Q383.2 679.6 379.9 675.2Z" fill="none" stroke="#171b1f" stroke-width="1.2" stroke-linejoin="round"/><circle cx="386.5" cy="675.2" r="2.1" fill="none" stroke="#171b1f" stroke-width="1.2"/><rect x="402.5" y="666.7" width="18" height="17" fill="#272c32"/><path d="M410.17 671.11L410.51 669.69L412.49 669.69L412.83 671.11L414.38 672.00L415.78 671.59L416.77 673.30L415.71 674.31L415.71 676.09L416.77 677.10L415.78 678.81L414.38 678.40L412.83 679.29L412.49 680.71L410.51 680.71L410.17 679.29L408.62 678.40L407.22 678.81L406.23 677.10L407.29 676.09L407.29 674.31L406.23 673.30L407.22 671.59L408.62 672.00Z" fill="none" stroke="#171b1f" stroke-width="1.2" stroke-linejoin="round"/><circle cx="411.5" cy="675.2" r="1.7" fill="none" stroke="#171b1f" stroke-width="1.1"/><rect x="427.5" y="666.7" width="18" height="17" fill="#272c32"/><path d="M432.5 671.0L440.5 679.4000000000001M440.5 671.0L432.5 679.4000000000001" fill="none" stroke="#171b1f" stroke-width="1.2"/></svg>
</body>
</html>
